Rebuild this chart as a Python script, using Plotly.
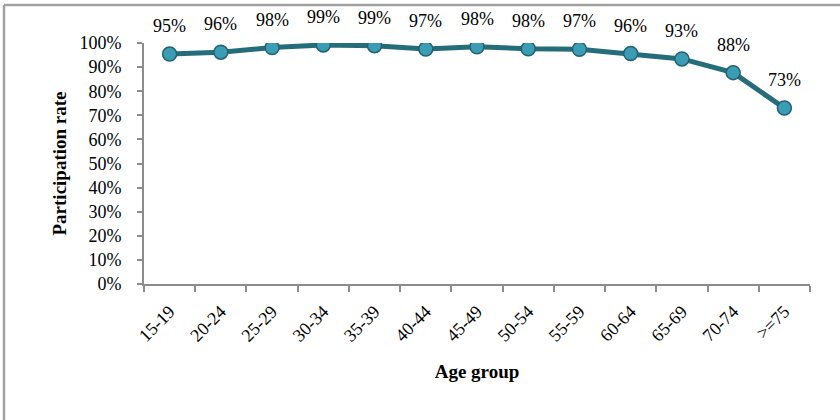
import plotly.graph_objects as go

age_groups = ["15-19", "20-24", "25-29", "30-34", "35-39", "40-44", "45-49",
              "50-54", "55-59", "60-64", "65-69", "70-74", ">=75"]
participation = [0.954, 0.962, 0.981, 0.992, 0.989, 0.975, 0.984,
                 0.976, 0.974, 0.956, 0.934, 0.877, 0.730]
value_labels = ["95%", "96%", "98%", "99%", "99%", "97%", "98%",
                "98%", "97%", "96%", "93%", "88%", "73%"]

SERIF = "Liberation Serif, Times New Roman, serif"
L, R, T, B = 144, 30, 43, 136
W, H = 840, 420
pw, ph = W - L - R, H - T - B

fig = go.Figure()
fig.add_trace(go.Scatter(
    x=age_groups, y=participation, mode="lines+markers",
    line=dict(color="#266d7b", width=5),
    marker=dict(size=14, color="#3b9db3", line=dict(color="#236272", width=1.5)),
    showlegend=False, hoverinfo="skip",
))
for xg, yv, lab in zip(age_groups, participation, value_labels):
    fig.add_annotation(x=xg, y=yv, text=lab, showarrow=False, yshift=28,
                       font=dict(family=SERIF, size=18, color="#000"))

def px_x(p):
    return (p - L) / pw
def px_y(p):
    return (H - B - p) / ph

fig.add_shape(type="line", xref="paper", yref="paper",
              x0=px_x(4), x1=px_x(842), y0=px_y(5), y1=px_y(5),
              line=dict(color="#a0a0a0", width=2.5))
fig.add_shape(type="line", xref="paper", yref="paper",
              x0=px_x(4), x1=px_x(4), y0=px_y(5), y1=px_y(422),
              line=dict(color="#a0a0a0", width=2.5))

fig.update_layout(
    width=W, height=H, margin=dict(l=L, r=R, t=T, b=B, autoexpand=False),
    paper_bgcolor="white", plot_bgcolor="white",
    font=dict(family=SERIF, size=18, color="#000"),
    xaxis=dict(
        automargin=False,
        showline=True, linecolor="#8c8c8c", linewidth=2,
        ticks="outside", tickson="boundaries", ticklen=6, tickcolor="#8c8c8c", tickwidth=2,
        tickangle=-45, showgrid=False, tickfont=dict(family=SERIF, size=18),
        ticklabelstandoff=8,
        title=dict(text="<b>Age group</b>", font=dict(family=SERIF, size=19), standoff=20),
        range=[-0.5, 12.5],
    ),
    yaxis=dict(
        automargin=False,
        range=[0, 1], dtick=0.1, tickformat=".0%",
        showline=True, linecolor="#8c8c8c", linewidth=2,
        ticks="outside", ticklen=5, tickcolor="#8c8c8c", tickwidth=2,
        ticklabelstandoff=12,
        showgrid=False, zeroline=False, tickfont=dict(family=SERIF, size=18),
        title=dict(text="<b>Participation rate</b>", font=dict(family=SERIF, size=19), standoff=8),
    ),
)
fig.write_html("out.html", config={"displayModeBar": False},
               post_script="document.body.style.margin='0';")
